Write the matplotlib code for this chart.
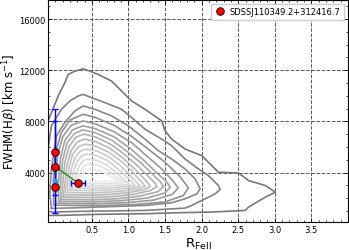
import numpy as np
import matplotlib
matplotlib.use("Agg")
import matplotlib.pyplot as plt
from matplotlib.ticker import MultipleLocator

## Density contours of the parent sample (outer -> inner) ##
contour_x = [
    [-0.2, -0.098, 0.039, 0.13, 0.176, 0.267, 0.381, 0.473, 0.587, 0.769, 0.929, 1.043, 1.226, 1.454, 1.5, 1.591,
     1.774, 2.002, 2.093, 2.23, 2.504, 2.641, 2.87, 3.007, 2.87, 2.641, 2.596, 2.139, 1.682, 1.226, 0.541, 0.084,
     -0.098, -0.2, -0.2],
    [-0.12, -0.053, 0.084, 0.199, 0.313, 0.381, 0.495, 0.678, 0.906, 1.043, 1.226, 1.454, 1.591, 1.774, 1.957,
     2.093, 2.23, 2.253, 2.185, 2.002, 1.865, 1.774, 1.226, 0.313, -0.053, -0.12, -0.12],
    [-0.053, -0.075, -0.053, 0.016, 0.13, 0.267, 0.381, 0.541, 0.769, 0.998, 1.226, 1.409, 1.591, 1.774, 1.911,
     1.979, 1.934, 1.774, 1.591, 1.226, 0.313, -0.053],
    [-0.02, -0.03, 0.0, 0.08, 0.2, 0.38, 0.55, 0.8, 1.05, 1.3, 1.5, 1.7, 1.82, 1.75, 1.5, 1.1, 0.5, -0.02],
    [0.01, 0.0, 0.03, 0.1, 0.22, 0.38, 0.55, 0.8, 1.05, 1.25, 1.45, 1.6, 1.68, 1.6, 1.35, 1.0, 0.5, 0.01],
    [0.05, 0.04, 0.07, 0.13, 0.24, 0.38, 0.55, 0.8, 1.02, 1.22, 1.4, 1.52, 1.57, 1.5, 1.25, 0.9, 0.5, 0.05],
    [0.08, 0.07, 0.1, 0.16, 0.26, 0.38, 0.55, 0.78, 0.98, 1.18, 1.34, 1.44, 1.48, 1.4, 1.15, 0.85, 0.5, 0.08],
    [0.11, 0.1, 0.13, 0.19, 0.28, 0.39, 0.55, 0.76, 0.95, 1.13, 1.27, 1.36, 1.39, 1.3, 1.08, 0.8, 0.5, 0.11],
    [0.14, 0.13, 0.16, 0.22, 0.3, 0.4, 0.55, 0.75, 0.92, 1.08, 1.2, 1.27, 1.3, 1.22, 1.02, 0.75, 0.5, 0.14],
    [0.17, 0.16, 0.19, 0.24, 0.32, 0.41, 0.56, 0.74, 0.9, 1.04, 1.14, 1.2, 1.23, 1.15, 0.97, 0.72, 0.5, 0.17],
    [0.2, 0.19, 0.22, 0.27, 0.34, 0.42, 0.57, 0.73, 0.87, 0.99, 1.08, 1.13, 1.16, 1.08, 0.92, 0.7, 0.5, 0.2],
    [0.23, 0.22, 0.25, 0.3, 0.36, 0.43, 0.57, 0.72, 0.84, 0.95, 1.03, 1.07, 1.09, 1.02, 0.88, 0.68, 0.5, 0.23],
    [0.27, 0.26, 0.29, 0.33, 0.38, 0.44, 0.57, 0.7, 0.81, 0.9, 0.97, 1.01, 1.02, 0.96, 0.84, 0.66, 0.5, 0.27],
    [0.31, 0.3, 0.33, 0.36, 0.4, 0.46, 0.58, 0.69, 0.78, 0.86, 0.92, 0.95, 0.9, 0.8, 0.65, 0.5, 0.31],
    [0.35, 0.34, 0.37, 0.41, 0.47, 0.58, 0.68, 0.76, 0.83, 0.88, 0.8, 0.65, 0.5, 0.35],
]
contour_y = [
    [7000, 8038, 9984, 11020, 11669, 11928, 12109, 11928, 11669, 11150, 10242, 9594, 8946, 8038, 7260, 6612,
     5834, 5316, 4797, 4019, 3967, 3371, 2982, 2463, 2074, 1297, 1037, 908, 856, 778, 726, 648,
     648, 600, 7000],
    [5000, 7649, 8946, 9594, 9983, 10113, 9853, 9464, 8946, 8298, 7390, 6612, 6094, 5056, 4278,
     3760, 2982, 2671, 2334, 1815, 1426, 1219, 1037, 959, 908, 1000, 5000],
    [1193, 2463, 4278, 6871, 7909, 8816, 9205, 8946, 8427, 7649, 6612, 5705, 5056, 4278, 3501,
     2723, 2334, 1945, 1634, 1426, 1245, 1193],
    [1450, 3000, 5500, 7100, 8100, 8557, 8300, 7700, 6800, 5700, 4800, 3700, 2800, 2200, 1700, 1500, 1400, 1450],
    [1600, 3000, 5300, 6800, 7700, 8038, 7800, 7200, 6300, 5300, 4300, 3400, 2800, 2300, 1850, 1650, 1550, 1600],
    [1750, 3000, 5100, 6500, 7350, 7649, 7420, 6800, 5900, 4900, 3900, 3300, 2850, 2400, 2000, 1800, 1700, 1750],
    [1900, 3000, 4950, 6300, 7050, 7338, 7100, 6500, 5650, 4700, 3800, 3250, 2900, 2500, 2150, 1950, 1860, 1900],
    [2080, 3000, 4800, 6050, 6750, 7001, 6780, 6200, 5400, 4500, 3700, 3200, 2900, 2600, 2300, 2120, 2040, 2080],
    [2260, 3000, 4600, 5750, 6400, 6612, 6420, 5880, 5150, 4300, 3600, 3150, 2900, 2680, 2440, 2290, 2220, 2260],
    [2440, 3000, 4450, 5450, 6030, 6223, 6050, 5550, 4880, 4150, 3500, 3120, 2920, 2760, 2580, 2460, 2400, 2440],
    [2620, 3100, 4300, 5150, 5660, 5834, 5680, 5230, 4620, 3980, 3420, 3100, 2950, 2850, 2730, 2630, 2580, 2620],
    [2800, 3200, 4150, 4850, 5290, 5445, 5310, 4910, 4360, 3800, 3340, 3100, 3000, 2930, 2860, 2790, 2760, 2800],
    [2980, 3300, 4000, 4550, 4920, 5056, 4940, 4600, 4120, 3640, 3280, 3130, 3080, 3040, 3000, 2960, 2940, 2980],
    [3160, 3400, 3900, 4250, 4540, 4667, 4570, 4280, 3900, 3530, 3300, 3220, 3180, 3150, 3130, 3115, 3160],
    [3330, 3500, 3850, 4120, 4278, 4200, 3980, 3700, 3470, 3360, 3320, 3300, 3295, 3330],
]

## The object: four measurements ##
obj_label = 'SDSSJ110349.2+312416.7'
obj_r = [0.0, 0.0, 0.0, 0.31]
obj_fwhm = [5600, 4450, 2850, 3190]
obj_fwhm_lo = [3344, 3594, 0, 0]
obj_fwhm_hi = [3400, 3550, 0, 0]
obj_r_err = [0, 0, 0, 0.1]
extra_r, extra_fwhm = 0.0, 3370

fig = plt.figure(figsize=(3.49, 2.51), dpi=100)
ax = fig.add_axes([0.1375, 0.11, 0.8596, 0.8865])

# contours, dark outside -> light inside
greys = np.linspace(0.47, 0.92, len(contour_x))
for cx, cy, g in zip(contour_x, contour_y, greys):
    ax.plot(cx, cy, color=str(g), lw=1.2, zorder=2)

# error bars
ax.errorbar(obj_r, obj_fwhm, yerr=[obj_fwhm_lo, obj_fwhm_hi], xerr=obj_r_err,
            fmt='none', ecolor='blue', elinewidth=1.0, capsize=2.5, capthick=1.0, zorder=3)
ax.plot([obj_r[1], obj_r[3]], [obj_fwhm[1], obj_fwhm[3]], color='green', lw=0.8, zorder=3)
ax.plot(extra_r, extra_fwhm, 'o', color='#3399ff', ms=4, mec='none', zorder=3)
ax.plot(obj_r, obj_fwhm, 'o', color='red', mec='black', mew=0.6, ms=5.5, zorder=4, label=obj_label)

ax.set_xlim(-0.1, 4.0)
ax.set_ylim(100, 17500)
ax.set_xticks([0.5, 1.0, 1.5, 2.0, 2.5, 3.0, 3.5])
ax.set_yticks([4000, 8000, 12000, 16000])
ax.xaxis.set_minor_locator(MultipleLocator(0.1))
ax.yaxis.set_minor_locator(MultipleLocator(1000))
ax.tick_params(which='both', direction='in', top=True, right=True, labelsize=6, pad=2)
ax.tick_params(which='major', length=3, width=0.6)
ax.tick_params(which='minor', length=1.5, width=0.5)
ax.grid(True, which='major', linestyle='--', color='0.35', lw=0.7)
for s in ax.spines.values():
    s.set_linewidth(0.8)

ax.set_xlabel(r'R$_{\rm FeII}$', fontsize=9.5, labelpad=1)
ax.set_ylabel(r'FWHM(H$\beta$) [km s$^{-1}$]', fontsize=8.4)
ax.yaxis.set_label_coords(-0.092, 0.5)
ax.legend(loc='upper right', fontsize=6, handletextpad=0.6, borderpad=0.4,
          framealpha=1, edgecolor='0.8', fancybox=False, handlelength=1.2)

fig.savefig('out.png', dpi=100)
